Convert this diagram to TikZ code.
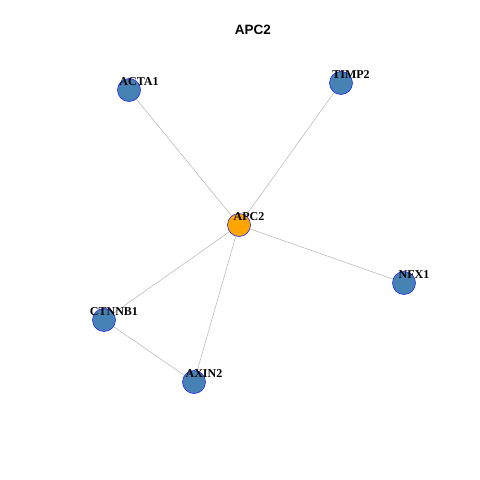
\documentclass[tikz,border=0pt]{standalone}
\usepackage{fontspec}
\setmainfont{Liberation Serif}
\newfontfamily\headfont{Liberation Sans}
\usetikzlibrary{backgrounds}
\definecolor{steel}{RGB}{70,130,180}
\definecolor{hub}{RGB}{255,165,0}
\definecolor{rim}{RGB}{40,40,235}
\definecolor{wire}{RGB}{180,180,180}
\tikzset{gene/.style={circle,draw=rim,fill=steel,minimum size=23pt,inner sep=0pt,line width=0.6pt},tag/.style={font=\bfseries\fontsize{12}{13}\selectfont,inner sep=0pt,xshift=10pt,yshift=8.5pt},link/.style={draw=wire,line width=0.5pt}}

\begin{document}
\begin{tikzpicture}[x=1pt,y=-1pt]
\useasboundingbox (0,0) rectangle (480,480);
\node[font=\headfont\bfseries\fontsize{13.5}{15}\selectfont] (title) at (253,30) {APC2};
\node[gene,fill=hub,label={[tag]center:APC2}] (apc) at (239,225) {};
\node[gene,label={[tag]center:ACTA1}] (acta) at (129,90) {};
\node[gene,label={[tag]center:TIMP2}] (timp) at (341,83) {};
\node[gene,label={[tag]center:NFX1}] (nfx) at (404,283) {};
\node[gene,label={[tag]center:CTNNB1}] (ctn) at (104,320) {};
\node[gene,label={[tag]center:AXIN2}] (axin) at (194,382) {};
\begin{scope}[on background layer]
\draw[link] (apc)--(acta);\draw[link] (apc)--(timp);\draw[link] (apc)--(nfx);
\draw[link] (apc)--(ctn);\draw[link] (apc)--(axin);\draw[link] (ctn)--(axin);
\end{scope}
\end{tikzpicture}
\end{document}
